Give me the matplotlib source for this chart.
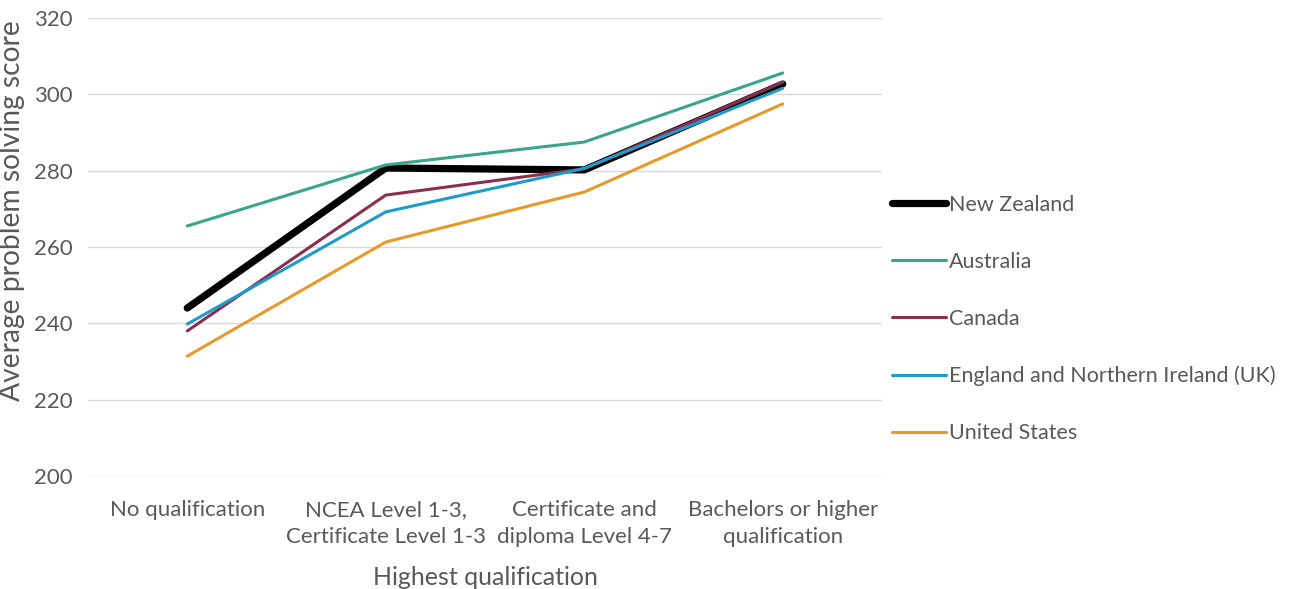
import matplotlib
matplotlib.use("Agg")
import matplotlib.pyplot as plt

categories = ["No qualification", "NCEA Level 1-3,\nCertificate Level 1-3",
              "Certificate and\ndiploma Level 4-7", "Bachelors or higher\nqualification"]
new_zealand = [244.0, 280.7, 280.2, 302.7]
australia = [265.5, 281.5, 287.5, 305.6]
canada = [238.0, 273.6, 280.5, 303.2]
england_ni = [239.8, 269.2, 280.6, 301.6]
united_states = [231.4, 261.3, 274.4, 297.5]

# name, values, colour, line width
series = [
    ("New Zealand", new_zealand, "#000000", 5.2),
    ("Australia", australia, "#3aa58a", 2.2),
    ("Canada", canada, "#8b2e50", 2.2),
    ("England and Northern Ireland (UK)", england_ni, "#1f9bc9", 2.2),
    ("United States", united_states, "#e59a2a", 2.2),
]

plt.rcParams['font.family'] = ['Lato', 'DejaVu Sans']
txt = "#595959"

fig = plt.figure(figsize=(12.92, 5.89), dpi=100)
ax = fig.add_axes([88 / 1292, 1 - 476 / 589, (882 - 88) / 1292, (476 - 18) / 589])

x = list(range(len(categories)))
for i, (name, vals, col, lw) in enumerate(series):
    ax.plot(x, vals, color=col, lw=lw, label=name, zorder=2 + i, solid_capstyle='round')

ax.set_xlim(-0.5, len(categories) - 0.5)
ax.set_ylim(200, 320)
ax.set_yticks(range(200, 321, 20))
ax.grid(axis='y', color='#d9d9d9', lw=1)
ax.set_axisbelow(True)
for s in ax.spines.values():
    s.set_visible(False)
ax.tick_params(length=0, colors=txt, labelsize=16)
ax.tick_params(axis='x', pad=17)
ax.tick_params(axis='y', pad=11)
ax.set_xticks(x)
ax.set_xticklabels(categories, va='top', linespacing=1.45)
ax.set_ylabel("Average problem solving score", color=txt, fontsize=20.3)
ax.yaxis.set_label_coords(-0.079, 0.58)
ax.set_xlabel("Highest qualification", color=txt, fontsize=18, labelpad=14)

leg = ax.legend(loc='center left', bbox_to_anchor=(1.0, 0.343), frameon=False,
                fontsize=15.5, labelspacing=1.72, handlelength=2.5, handletextpad=0.15,
                borderaxespad=0.05)
for t in leg.get_texts():
    t.set_color(txt)

fig.savefig("out.png", dpi=100)
